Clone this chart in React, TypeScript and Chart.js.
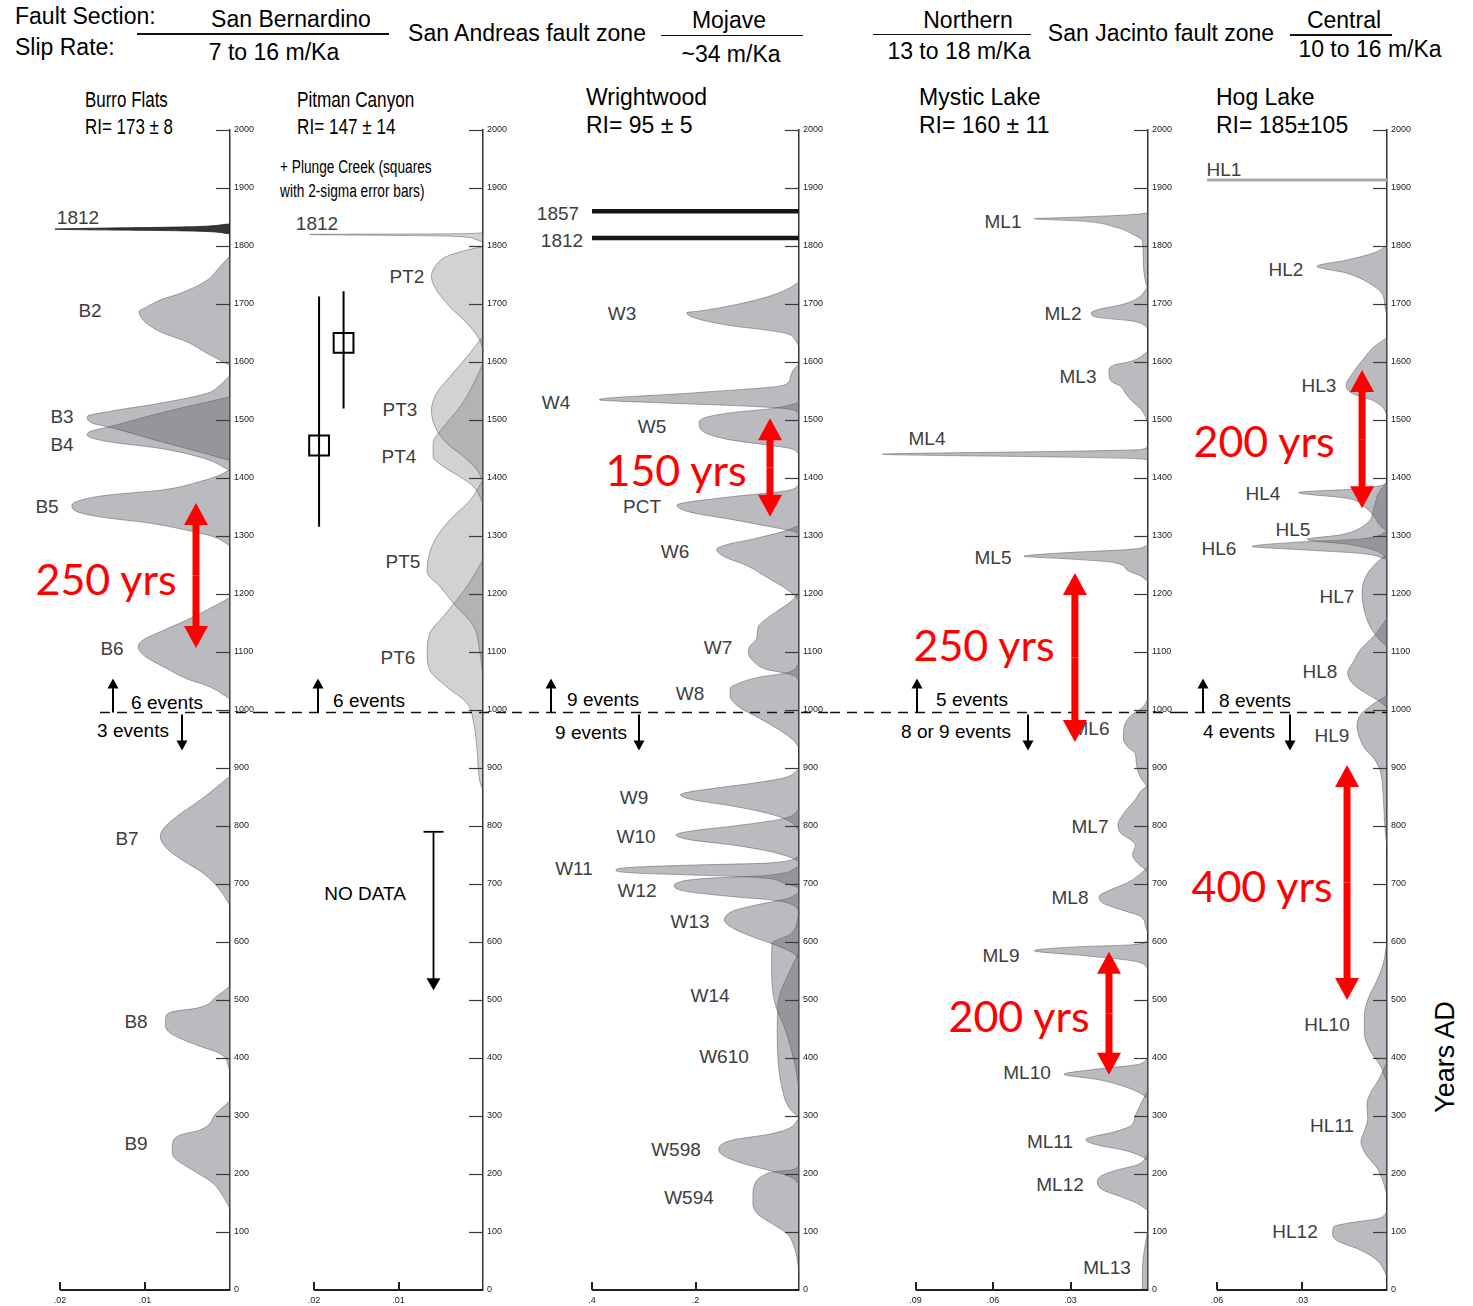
import React, { useEffect, useRef } from "react";
import { Chart, registerables } from "chart.js";

Chart.register(...registerables);

const PAGE_W = 1473;
const PAGE_H = 1306;
const SANS = '"Liberation Sans", Arial, Helvetica, sans-serif';
const RED_FONT = 'Lato, "Open Sans", sans-serif';

// ---------- axis ticks ----------
const YEAR_TICKS = [0, 100, 200, 300, 400, 500, 600, 700, 800, 900, 1000, 1100, 1200, 1300, 1400, 1500, 1600, 1700, 1800, 1900, 2000];
const YEAR_LABELS = YEAR_TICKS.map(String);
const DIVIDE_YEAR = 996;

const BF_X_TICKS = [0.02, 0.01];
const BF_X_LABELS = [".02", ".01"];
const PC_X_TICKS = [0.02, 0.01];
const PC_X_LABELS = [".02", ".01"];
const WW_X_TICKS = [0.4, 0.2];
const WW_X_LABELS = [".4", ".2"];
const ML_X_TICKS = [0.09, 0.06, 0.03];
const ML_X_LABELS = [".09", ".06", ".03"];
const HL_X_TICKS = [0.06, 0.03];
const HL_X_LABELS = [".06", ".03"];

// ---------- curves: [year AD, probability density] ----------
// Burro Flats
const BF_1812 = [[1838, 0], [1833, 0.005], [1829, 0.0206], [1826, 0.005], [1821, 0]];
const BF_B2 = [[1783, 0], [1764, 0.0012], [1741, 0.0027], [1718, 0.0059], [1707, 0.0082], [1695, 0.0098], [1687, 0.0107], [1672, 0.0102], [1652, 0.0082], [1635, 0.0051], [1615, 0.0027], [1594, 0]];
const BF_B3 = [[1577, 0], [1560, 0.0012], [1546, 0.0027], [1529, 0.0082], [1515, 0.0141], [1506, 0.0168], [1494, 0.0161], [1488, 0.0143], [1463, 0.0082], [1443, 0.0031], [1430, 0]];
const BF_B4 = [[1540, 0], [1512, 0.0082], [1488, 0.0143], [1480, 0.0165], [1474, 0.0168], [1463, 0.0145], [1451, 0.0082], [1434, 0.0031], [1413, 0]];
const BF_B5 = [[1415, 0], [1405, 0.0012], [1394, 0.0035], [1379, 0.0082], [1371, 0.0141], [1363, 0.0173], [1353, 0.0186], [1342, 0.018], [1333, 0.0153], [1322, 0.0094], [1310, 0.0051], [1299, 0.002], [1283, 0]];
const BF_B6 = [[1194, 0], [1178, 0.002], [1155, 0.0051], [1135, 0.0082], [1121, 0.0102], [1109, 0.0108], [1095, 0.0102], [1072, 0.0075], [1054, 0.0051], [1040, 0.0024], [1019, 0]];
const BF_B7 = [[886, 0], [862, 0.002], [845, 0.0035], [816, 0.0063], [796, 0.0078], [782, 0.0082], [764, 0.0076], [744, 0.0059], [718, 0.0031], [690, 0.0012], [663, 0]];
const BF_B8 = [[524, 0], [506, 0.0016], [486, 0.0039], [480, 0.0067], [472, 0.0075], [460, 0.0076], [446, 0.0073], [434, 0.0059], [420, 0.0035], [408, 0.0012], [378, 0]];
const BF_B9 = [[326, 0], [305, 0.0016], [276, 0.0035], [267, 0.0059], [256, 0.0067], [241, 0.0068], [227, 0.0065], [213, 0.0051], [184, 0.002], [161, 0.0008], [140, 0]];

// Pitman Canyon
const PC_1812 = [[1823, 0], [1821, 0.004], [1820, 0.0205], [1817, 0.004], [1812, 0.001], [1807, 0]];
const PC_PT2 = [[1799, 0], [1793, 0.0019], [1782, 0.0043], [1764, 0.0057], [1747, 0.0061], [1724, 0.0055], [1695, 0.0039], [1667, 0.0019], [1638, 0.0004], [1620, 0]];
const PC_PT3 = [[1644, 0], [1609, 0.0019], [1575, 0.0039], [1546, 0.0055], [1517, 0.0061], [1489, 0.0057], [1460, 0.0043], [1437, 0.0023], [1414, 0.0007], [1394, 0]];
const PC_PT4 = [[1598, 0], [1563, 0.0011], [1523, 0.0027], [1488, 0.0047], [1460, 0.0059], [1437, 0.0059], [1420, 0.0047], [1402, 0.0027], [1385, 0.0011], [1356, 0]];
const PC_PT5 = [[1397, 0], [1362, 0.0015], [1328, 0.0039], [1293, 0.0057], [1259, 0.0065], [1238, 0.0066], [1213, 0.0051], [1184, 0.0035], [1144, 0.0011], [1103, 0.0004], [1057, 0]];
const PC_PT6 = [[1259, 0], [1213, 0.0019], [1161, 0.0047], [1132, 0.0063], [1098, 0.0066], [1069, 0.0063], [1040, 0.0043], [1012, 0.0019], [977, 0.0011], [931, 0.0007], [879, 0.0004], [860, 0]];
// Plunge Creek ages (squares) with 2-sigma ranges
const PLUNGE_X = [0.0165, 0.0194];
const PLUNGE_MID = [1633, 1456];
const PLUNGE_HI = [1722, 1713];
const PLUNGE_LO = [1520, 1316];

// Wrightwood
const WW_1857 = [[1860, 0.4], [1860, 0]];
const WW_1812 = [[1814, 0.4], [1814, 0]];
const WW_W3 = [[1738, 0], [1725, 0.024], [1712, 0.0625], [1698, 0.127], [1688, 0.191], [1685, 0.217], [1675, 0.198], [1662, 0.127], [1655, 0.0625], [1649, 0.024], [1639, 0.008], [1626, 0]];
const WW_W4 = [[1597, 0], [1586, 0.011], [1573, 0.017], [1560, 0.03], [1547, 0.2], [1535, 0.386], [1529, 0.25], [1525, 0.127], [1520, 0.03], [1513, 0]];
const WW_W5 = [[1530, 0], [1520, 0.05], [1513, 0.127], [1505, 0.178], [1495, 0.193], [1480, 0.185], [1467, 0.14], [1457, 0.0625], [1451, 0.017], [1441, 0]];
const WW_PCT = [[1388, 0], [1378, 0.024], [1368, 0.127], [1358, 0.217], [1353, 0.236], [1341, 0.21], [1328, 0.127], [1315, 0.05], [1308, 0.011], [1302, 0]];
const WW_W6 = [[1318, 0], [1308, 0.03], [1295, 0.088], [1285, 0.14], [1277, 0.159], [1265, 0.146], [1249, 0.101], [1229, 0.0625], [1212, 0.03], [1199, 0.011], [1189, 0]];
const WW_W7 = [[1203, 0], [1186, 0.017], [1170, 0.043], [1153, 0.069], [1143, 0.079], [1123, 0.082], [1110, 0.095], [1100, 0.098], [1084, 0.088], [1070, 0.0625], [1063, 0.024], [1057, 0.005], [1044, 0]];
const WW_W8 = [[1080, 0], [1064, 0.024], [1057, 0.075], [1047, 0.114], [1037, 0.133], [1024, 0.133], [1004, 0.114], [985, 0.075], [965, 0.037], [948, 0.011], [935, 0]];
const WW_W9 = [[898, 0], [883, 0.029], [874, 0.087], [865, 0.164], [858, 0.216], [854, 0.229], [846, 0.209], [834, 0.126], [822, 0.061], [813, 0.029], [803, 0.01], [791, 0]];
const WW_W10 = [[828, 0], [813, 0.029], [800, 0.126], [792, 0.203], [785, 0.238], [776, 0.209], [767, 0.126], [757, 0.061], [748, 0.023], [739, 0]];
const WW_W11 = [[748, 0], [736, 0.061], [733, 0.19], [729, 0.319], [724, 0.354], [719, 0.319], [715, 0.19], [712, 0.093], [702, 0.029], [693, 0]];
const WW_W12 = [[730, 0], [715, 0.061], [709, 0.19], [702, 0.235], [696, 0.241], [687, 0.216], [678, 0.126], [672, 0.048], [663, 0.01], [650, 0]];
const WW_W13 = [[685, 0], [675, 0.023], [663, 0.087], [654, 0.126], [638, 0.144], [626, 0.132], [608, 0.087], [598, 0.055], [589, 0.029], [580, 0.01], [571, 0]];
const WW_W14 = [[650, 0], [614, 0.016], [598, 0.052], [565, 0.053], [510, 0.05], [482, 0.042], [455, 0.029], [418, 0.016], [381, 0.006], [345, 0]];
const WW_W610 = [[583, 0], [565, 0.01], [540, 0.023], [516, 0.035], [491, 0.041], [442, 0.042], [381, 0.039], [345, 0.032], [320, 0.023], [305, 0.01], [299, 0]];
const WW_W598 = [[296, 0], [277, 0.023], [268, 0.061], [259, 0.126], [250, 0.151], [241, 0.155], [228, 0.138], [216, 0.1], [204, 0.048], [195, 0.016], [183, 0]];
const WW_W594 = [[215, 0], [207, 0.016], [204, 0.048], [198, 0.068], [186, 0.084], [161, 0.089], [149, 0.089], [131, 0.08], [112, 0.048], [97, 0.023], [76, 0.01], [51, 0.003], [27, 0]];

// Mystic Lake
const ML_ML1 = [[1857, 0], [1854, 0.0067], [1850, 0.026], [1847, 0.044], [1843, 0.026], [1833, 0.013], [1819, 0.0054], [1809, 0.0022], [1770, 0.0018], [1737, 0.0009], [1724, 0]];
const ML_ML2 = [[1730, 0], [1710, 0.004], [1700, 0.0093], [1690, 0.0196], [1684, 0.022], [1677, 0.0196], [1671, 0.0067], [1664, 0.0015], [1657, 0]];
const ML_ML3 = [[1618, 0], [1601, 0.0067], [1595, 0.013], [1585, 0.0151], [1568, 0.0145], [1558, 0.0106], [1545, 0.0086], [1532, 0.006], [1519, 0.0028], [1505, 0.0009], [1492, 0]];
const ML_ML4 = [[1456, 0], [1449, 0.0028], [1446, 0.0325], [1441, 0.1028], [1436, 0.0325], [1433, 0.0028], [1429, 0]];
const ML_ML5 = [[1284, 0], [1277, 0.0067], [1271, 0.0325], [1265, 0.048], [1261, 0.0325], [1254, 0.013], [1241, 0.008], [1231, 0.0028], [1221, 0]];
const ML_ML6 = [[1020, 0], [1005, 0.002], [990, 0.0067], [970, 0.0093], [950, 0.0095], [937, 0.008], [925, 0.005], [907, 0.0045], [883, 0.0028], [871, 0.0009], [862, 0]];
const ML_ML7 = [[868, 0], [865, 0.0015], [846, 0.0048], [822, 0.0093], [803, 0.0116], [788, 0.0106], [776, 0.0067], [767, 0.0048], [751, 0.006], [736, 0.0041], [724, 0.0009], [718, 0]];
const ML_ML8 = [[730, 0], [718, 0.0028], [702, 0.008], [690, 0.0145], [678, 0.019], [666, 0.017], [654, 0.0093], [644, 0.0028], [626, 0.0009], [614, 0]];
const ML_ML9 = [[602, 0], [595, 0.0067], [592, 0.026], [585, 0.044], [577, 0.026], [568, 0.0067], [559, 0.0009], [546, 0]];
const ML_ML10 = [[406, 0], [390, 0.0028], [381, 0.0196], [372, 0.0325], [363, 0.0196], [351, 0.0093], [339, 0.0028], [329, 0]];
const ML_ML11 = [[345, 0], [326, 0.0022], [302, 0.0048], [283, 0.0067], [274, 0.0119], [259, 0.0241], [250, 0.0196], [241, 0.0093], [231, 0.0028], [222, 0]];
const ML_ML12 = [[235, 0], [216, 0.0041], [207, 0.0119], [198, 0.0177], [186, 0.0196], [173, 0.0177], [161, 0.0106], [149, 0.0041], [137, 0]];
const ML_ML13 = [[106, 0], [82, 0.0009], [57, 0.0018], [27, 0.0022], [0, 0.0022]];

// Hog Lake
const HL_HL1 = [[1914, 0.0635], [1914, 0]];
const HL_HL2 = [[1801, 0], [1788, 0.0047], [1776, 0.0141], [1765, 0.0247], [1753, 0.0141], [1731, 0.0047], [1718, 0.0018], [1692, 0.0006], [1679, 0]];
const HL_HL3 = [[1642, 0], [1626, 0.0047], [1606, 0.0082], [1579, 0.0124], [1560, 0.0144], [1546, 0.0124], [1533, 0.0047], [1520, 0.0012], [1507, 0]];
const HL_HL4 = [[1392, 0], [1388, 0.0012], [1381, 0.0118], [1375, 0.0312], [1365, 0.0141], [1351, 0.0082], [1335, 0.0047], [1318, 0.0024], [1308, 0]];
const HL_HL5 = [[1394, 0], [1375, 0.0029], [1348, 0.0047], [1322, 0.0071], [1302, 0.0165], [1294, 0.0282], [1286, 0.0141], [1276, 0.0047], [1262, 0]];
const HL_HL6 = [[1308, 0], [1295, 0.0094], [1289, 0.0329], [1282, 0.0476], [1277, 0.0329], [1270, 0.0094], [1260, 0]];
const HL_HL7 = [[1269, 0], [1249, 0.0047], [1229, 0.0076], [1203, 0.0088], [1176, 0.0082], [1143, 0.0059], [1120, 0.0024], [1110, 0]];
const HL_HL8 = [[1160, 0], [1150, 0.0012], [1127, 0.0047], [1104, 0.0094], [1084, 0.0118], [1064, 0.0139], [1044, 0.0118], [1028, 0.0071], [1014, 0.0024], [1004, 0]];
const HL_HL9 = [[1030, 0], [1024, 0.0006], [1011, 0.0047], [991, 0.0094], [971, 0.0106], [950, 0.0095], [932, 0.0076], [917, 0.0047], [895, 0.0024], [858, 0.0014], [809, 0.0009], [761, 0]];
const HL_HL10 = [[602, 0], [565, 0.0012], [534, 0.0035], [504, 0.0065], [473, 0.008], [443, 0.008], [412, 0.0059], [387, 0.0024], [357, 0]];
const HL_HL11 = [[394, 0], [363, 0.0029], [339, 0.0059], [320, 0.0071], [296, 0.0068], [271, 0.0082], [256, 0.0092], [235, 0.0076], [210, 0.0035], [180, 0.0009], [161, 0]];
const HL_HL12 = [[140, 0], [124, 0.0024], [115, 0.0141], [109, 0.0188], [97, 0.0192], [85, 0.0176], [69, 0.0094], [51, 0.0035], [33, 0.0009], [20, 0]];

// ---------- styles ----------
const FILL = "rgba(105,105,112,0.45)";
const FILL_LIGHT = "rgba(105,105,112,0.30)";
const EDGE = "rgba(80,80,85,0.6)";

const PANELS: any[] = [
  {
    id: "bf", left: 0, width: 258, yAxisW: 28, k: 8500, xMax: 0.0215,
    xTicks: BF_X_TICKS, xLabels: BF_X_LABELS,
    curves: [
      { pts: BF_1812, fill: "rgba(35,35,38,0.92)", edge: "#222" },
      { pts: BF_B2 }, { pts: BF_B3 }, { pts: BF_B4 }, { pts: BF_B5 },
      { pts: BF_B6 }, { pts: BF_B7 }, { pts: BF_B8 }, { pts: BF_B9 },
    ],
    dashStart: 100, upX: 0.01376, downX: 0.00565,
    red: [{ x: 0.004, y1: 1357, y2: 1107 }],
  },
  {
    id: "pc", left: 258, width: 254, yAxisW: 29, k: 8450, xMax: 0.0215,
    xTicks: PC_X_TICKS, xLabels: PC_X_LABELS,
    fill: FILL_LIGHT,
    curves: [
      { pts: PC_1812 }, { pts: PC_PT2 }, { pts: PC_PT3 }, { pts: PC_PT4 },
      { pts: PC_PT5 }, { pts: PC_PT6 },
    ],
    plunge: true,
    dashStart: 0, upX: 0.01953,
    red: [],
    noData: { x: 0.0059, top: 790, bottom: 517 },
  },
  {
    id: "ww", left: 512, width: 318, yAxisW: 31, k: 517.5, xMax: 0.41,
    xTicks: WW_X_TICKS, xLabels: WW_X_LABELS,
    curves: [
      { pts: WW_W3 }, { pts: WW_W4 }, { pts: WW_W5 }, { pts: WW_PCT }, { pts: WW_W6 },
      { pts: WW_W7 }, { pts: WW_W8 }, { pts: WW_W9 }, { pts: WW_W10 }, { pts: WW_W11 },
      { pts: WW_W12 }, { pts: WW_W13 }, { pts: WW_W14 }, { pts: WW_W610 },
      { pts: WW_W598 }, { pts: WW_W594 },
    ],
    lines: [
      { pts: WW_1857, color: "#151515", width: 4.5 },
      { pts: WW_1812, color: "#151515", width: 4.5 },
    ],
    dashStart: 0, upX: 0.479, downX: 0.309,
    red: [{ x: 0.056, y1: 1503, y2: 1333 }],
  },
  {
    id: "ml", left: 830, width: 348, yAxisW: 30, k: 2583.3, xMax: 0.106,
    xTicks: ML_X_TICKS, xLabels: ML_X_LABELS,
    curves: [
      { pts: ML_ML1 }, { pts: ML_ML2 }, { pts: ML_ML3 }, { pts: ML_ML4 }, { pts: ML_ML5 },
      { pts: ML_ML6 }, { pts: ML_ML7 }, { pts: ML_ML8 }, { pts: ML_ML9 }, { pts: ML_ML10 },
      { pts: ML_ML11 }, { pts: ML_ML12 }, { pts: ML_ML13 },
    ],
    dashStart: 0, upX: 0.0894, downX: 0.0465,
    red: [{ x: 0.0283, y1: 1236, y2: 945 }, { x: 0.0151, y1: 583, y2: 371 }],
  },
  {
    id: "hl", left: 1178, width: 295, yAxisW: 86, k: 2833.3, xMax: 0.066,
    xTicks: HL_X_TICKS, xLabels: HL_X_LABELS,
    curves: [
      { pts: HL_HL2 }, { pts: HL_HL3 }, { pts: HL_HL4 }, { pts: HL_HL5 }, { pts: HL_HL6 },
      { pts: HL_HL7 }, { pts: HL_HL8 }, { pts: HL_HL9 }, { pts: HL_HL10 },
      { pts: HL_HL11 }, { pts: HL_HL12 },
    ],
    lines: [{ pts: HL_HL1, color: "#a8a8a8", width: 3 }],
    dashStart: 0, dashToAxis: true, upX: 0.065, downX: 0.0342,
    red: [{ x: 0.0088, y1: 1586, y2: 1348 }, { x: 0.0141, y1: 905, y2: 500 }],
  },
];

// ---------- text ----------
const HEAD = 23;
const LBL = 19;
const GREY = "#3e3e3e";
const TEXTS: any[] = [
  { t: "Fault Section:", x: 15, y: 16, a: "l", s: HEAD },
  { t: "Slip Rate:", x: 15, y: 47, a: "l", s: HEAD },
  { t: "San Bernardino", x: 291, y: 19, s: HEAD },
  { t: "7 to 16 m/Ka", x: 274, y: 52, s: HEAD },
  { t: "San Andreas fault zone", x: 527, y: 33, s: HEAD },
  { t: "Mojave", x: 729, y: 20, s: HEAD },
  { t: "~34 m/Ka", x: 731, y: 54, s: HEAD },
  { t: "Northern", x: 968, y: 20, s: HEAD },
  { t: "13 to 18 m/Ka", x: 959, y: 51, s: HEAD },
  { t: "San Jacinto fault zone", x: 1161, y: 33, s: HEAD },
  { t: "Central", x: 1344, y: 20, s: HEAD },
  { t: "10 to 16 m/Ka", x: 1370, y: 49, s: HEAD },

  { t: "Burro Flats", x: 85, y: 100, a: "l", s: 22, sx: 0.77 },
  { t: "RI= 173 ± 8", x: 85, y: 127, a: "l", s: 22, sx: 0.77 },
  { t: "Pitman Canyon", x: 297, y: 100, a: "l", s: 22, sx: 0.78 },
  { t: "RI= 147 ± 14", x: 297, y: 127, a: "l", s: 22, sx: 0.78 },
  { t: "+ Plunge Creek (squares", x: 280, y: 167, a: "l", s: 18, sx: 0.76 },
  { t: "with 2-sigma error bars)", x: 280, y: 191, a: "l", s: 18, sx: 0.76 },
  { t: "Wrightwood", x: 586, y: 97, a: "l", s: HEAD },
  { t: "RI= 95 ± 5", x: 586, y: 125, a: "l", s: HEAD },
  { t: "Mystic Lake", x: 919, y: 97, a: "l", s: HEAD },
  { t: "RI= 160 ± 11", x: 919, y: 125, a: "l", s: HEAD },
  { t: "Hog Lake", x: 1216, y: 97, a: "l", s: HEAD },
  { t: "RI= 185±105", x: 1216, y: 125, a: "l", s: HEAD },

  { t: "1812", x: 78, y: 217, s: LBL, c: GREY },
  { t: "B2", x: 90, y: 310, s: LBL, c: GREY },
  { t: "B3", x: 62, y: 416, s: LBL, c: GREY },
  { t: "B4", x: 62, y: 444, s: LBL, c: GREY },
  { t: "B5", x: 47, y: 506, s: LBL, c: GREY },
  { t: "B6", x: 112, y: 648, s: LBL, c: GREY },
  { t: "B7", x: 127, y: 838, s: LBL, c: GREY },
  { t: "B8", x: 136, y: 1021, s: LBL, c: GREY },
  { t: "B9", x: 136, y: 1143, s: LBL, c: GREY },

  { t: "1812", x: 317, y: 223, s: LBL, c: GREY },
  { t: "PT2", x: 407, y: 276, s: LBL, c: GREY },
  { t: "PT3", x: 400, y: 409, s: LBL, c: GREY },
  { t: "PT4", x: 399, y: 456, s: LBL, c: GREY },
  { t: "PT5", x: 403, y: 561, s: LBL, c: GREY },
  { t: "PT6", x: 398, y: 657, s: LBL, c: GREY },

  { t: "1857", x: 558, y: 213, s: LBL, c: GREY },
  { t: "1812", x: 562, y: 240, s: LBL, c: GREY },
  { t: "W3", x: 622, y: 313, s: LBL, c: GREY },
  { t: "W4", x: 556, y: 402, s: LBL, c: GREY },
  { t: "W5", x: 652, y: 426, s: LBL, c: GREY },
  { t: "PCT", x: 642, y: 506, s: LBL, c: GREY },
  { t: "W6", x: 675, y: 551, s: LBL, c: GREY },
  { t: "W7", x: 718, y: 647, s: LBL, c: GREY },
  { t: "W8", x: 690, y: 693, s: LBL, c: GREY },
  { t: "W9", x: 634, y: 797, s: LBL, c: GREY },
  { t: "W10", x: 636, y: 836, s: LBL, c: GREY },
  { t: "W11", x: 574, y: 868, s: LBL, c: GREY },
  { t: "W12", x: 637, y: 890, s: LBL, c: GREY },
  { t: "W13", x: 690, y: 921, s: LBL, c: GREY },
  { t: "W14", x: 710, y: 995, s: LBL, c: GREY },
  { t: "W610", x: 724, y: 1056, s: LBL, c: GREY },
  { t: "W598", x: 676, y: 1149, s: LBL, c: GREY },
  { t: "W594", x: 689, y: 1197, s: LBL, c: GREY },

  { t: "ML1", x: 1003, y: 221, s: LBL, c: GREY },
  { t: "ML2", x: 1063, y: 313, s: LBL, c: GREY },
  { t: "ML3", x: 1078, y: 376, s: LBL, c: GREY },
  { t: "ML4", x: 927, y: 438, s: LBL, c: GREY },
  { t: "ML5", x: 993, y: 557, s: LBL, c: GREY },
  { t: "ML6", x: 1091, y: 728, s: LBL, c: GREY },
  { t: "ML7", x: 1090, y: 826, s: LBL, c: GREY },
  { t: "ML8", x: 1070, y: 897, s: LBL, c: GREY },
  { t: "ML9", x: 1001, y: 955, s: LBL, c: GREY },
  { t: "ML10", x: 1027, y: 1072, s: LBL, c: GREY },
  { t: "ML11", x: 1050, y: 1141, s: LBL, c: GREY },
  { t: "ML12", x: 1060, y: 1184, s: LBL, c: GREY },
  { t: "ML13", x: 1107, y: 1267, s: LBL, c: GREY },

  { t: "HL1", x: 1224, y: 169, s: LBL, c: GREY },
  { t: "HL2", x: 1286, y: 269, s: LBL, c: GREY },
  { t: "HL3", x: 1319, y: 385, s: LBL, c: GREY },
  { t: "HL4", x: 1263, y: 493, s: LBL, c: GREY },
  { t: "HL5", x: 1293, y: 529, s: LBL, c: GREY },
  { t: "HL6", x: 1219, y: 548, s: LBL, c: GREY },
  { t: "HL7", x: 1337, y: 596, s: LBL, c: GREY },
  { t: "HL8", x: 1320, y: 671, s: LBL, c: GREY },
  { t: "HL9", x: 1332, y: 735, s: LBL, c: GREY },
  { t: "HL10", x: 1327, y: 1024, s: LBL, c: GREY },
  { t: "HL11", x: 1332, y: 1125, s: LBL, c: GREY },
  { t: "HL12", x: 1295, y: 1231, s: LBL, c: GREY },

  { t: "6 events", x: 167, y: 702, s: LBL },
  { t: "3 events", x: 133, y: 730, s: LBL },
  { t: "6 events", x: 369, y: 700, s: LBL },
  { t: "9 events", x: 603, y: 699, s: LBL },
  { t: "9 events", x: 591, y: 732, s: LBL },
  { t: "5 events", x: 972, y: 699, s: LBL },
  { t: "8 or 9 events", x: 956, y: 731, s: LBL },
  { t: "8 events", x: 1255, y: 700, s: LBL },
  { t: "4 events", x: 1239, y: 731, s: LBL },
  { t: "NO DATA", x: 365, y: 893, s: LBL },

  { t: "250 yrs", x: 106, y: 578, s: 43, c: "#ff0000", f: RED_FONT },
  { t: "150 yrs", x: 676, y: 469, s: 43, c: "#ff0000", f: RED_FONT },
  { t: "250 yrs", x: 984, y: 644, s: 43, c: "#ff0000", f: RED_FONT },
  { t: "200 yrs", x: 1019, y: 1015, s: 43, c: "#ff0000", f: RED_FONT },
  { t: "200 yrs", x: 1264, y: 440, s: 43, c: "#ff0000", f: RED_FONT },
  { t: "400 yrs", x: 1262, y: 885, s: 43, c: "#ff0000", f: RED_FONT },

  { t: "Years AD", x: 1445, y: 1057, s: 27, rot: true },
];

const RULES = [
  { x1: 137, x2: 389, y: 34 },
  { x1: 661, x2: 803, y: 35.5 },
  { x1: 873, x2: 1031, y: 34.5 },
  { x1: 1290, x2: 1392, y: 35 },
];

// ---------- drawing helpers ----------
function drawArrow(ctx: any, x: number, yFrom: number, yTo: number, color: string, shaft: number, headW: number, headL: number) {
  const dir = Math.sign(yTo - yFrom);
  ctx.strokeStyle = color;
  ctx.fillStyle = color;
  ctx.lineWidth = shaft;
  ctx.lineCap = "butt";
  ctx.beginPath();
  ctx.moveTo(x, yFrom);
  ctx.lineTo(x, yTo - dir * headL * 0.7);
  ctx.stroke();
  ctx.beginPath();
  ctx.moveTo(x, yTo);
  ctx.lineTo(x - headW / 2, yTo - dir * headL);
  ctx.lineTo(x + headW / 2, yTo - dir * headL);
  ctx.closePath();
  ctx.fill();
}

function makeAnnotPlugin(spec: any) {
  return {
    id: "annot_" + spec.id,
    afterDatasetsDraw(chart: any) {
      const ctx = chart.ctx;
      const ca = chart.chartArea;
      const xs = chart.scales.x;
      const ys = chart.scales.y;
      ctx.save();
      // inward y ticks
      ctx.strokeStyle = "#3a3a3a";
      ctx.lineWidth = 1.2;
      for (const t of YEAR_TICKS) {
        if (t === 0) continue;
        const py = Math.round(ys.getPixelForValue(t)) + 0.5;
        ctx.beginPath();
        ctx.moveTo(ca.right - 14, py);
        ctx.lineTo(ca.right, py);
        ctx.stroke();
      }
      // x axis line from first tick to the year axis, ticks pointing up
      const xl = xs.getPixelForValue(spec.xTicks[0]);
      ctx.strokeStyle = "#222";
      ctx.lineWidth = 2;
      ctx.beginPath();
      ctx.moveTo(xl, ca.bottom);
      ctx.lineTo(ca.right, ca.bottom);
      ctx.stroke();
      for (const t of spec.xTicks) {
        const px = Math.round(xs.getPixelForValue(t));
        ctx.beginPath();
        ctx.moveTo(px, ca.bottom);
        ctx.lineTo(px, ca.bottom - 8);
        ctx.stroke();
      }
      // dashed divide
      const dy = Math.round(ys.getPixelForValue(DIVIDE_YEAR)) + 0.5;
      ctx.setLineDash([10, 7]);
      ctx.lineWidth = 1.5;
      ctx.strokeStyle = "#111";
      ctx.beginPath();
      ctx.moveTo(spec.dashStart, dy);
      ctx.lineTo(spec.dashToAxis ? ca.right : chart.width, dy);
      ctx.stroke();
      ctx.setLineDash([]);
      // event arrows
      if (spec.upX != null) drawArrow(ctx, Math.round(xs.getPixelForValue(spec.upX)), dy, dy - 34, "#000", 2, 11, 10);
      if (spec.downX != null) drawArrow(ctx, Math.round(xs.getPixelForValue(spec.downX)), dy + 2, dy + 38, "#000", 2, 11, 10);
      // no data marker
      if (spec.noData) {
        const nx = Math.round(xs.getPixelForValue(spec.noData.x)) + 0.5;
        const ty = ys.getPixelForValue(spec.noData.top);
        const by = ys.getPixelForValue(spec.noData.bottom);
        ctx.strokeStyle = "#000";
        ctx.lineWidth = 1.8;
        ctx.beginPath();
        ctx.moveTo(nx - 10, ty);
        ctx.lineTo(nx + 10, ty);
        ctx.stroke();
        drawArrow(ctx, nx, ty, by, "#000", 1.8, 14, 12);
      }
      // red double arrows
      for (const r of spec.red) {
        const rx = xs.getPixelForValue(r.x);
        const y1 = ys.getPixelForValue(r.y1);
        const y2 = ys.getPixelForValue(r.y2);
        const mid = (y1 + y2) / 2;
        drawArrow(ctx, rx, mid, y1, "#ff0000", 7, 24, 22);
        drawArrow(ctx, rx, mid, y2, "#ff0000", 7, 24, 22);
      }
      ctx.restore();
    },
  };
}

function buildConfig(spec: any) {
  const datasets: any[] = [];
  for (const l of spec.lines || []) {
    datasets.push({
      data: l.pts.map((p: number[]) => ({ x: p[1], y: p[0] })),
      fill: false,
      borderColor: l.color,
      borderWidth: l.width,
      pointRadius: 0,
      tension: 0,
      cubicInterpolationMode: "default",
      clip: false,
      order: 0,
    });
  }
  if (spec.plunge) {
    for (let i = 0; i < PLUNGE_X.length; i++) {
      datasets.push({
        data: [{ x: PLUNGE_X[i], y: PLUNGE_HI[i] }, { x: PLUNGE_X[i], y: PLUNGE_LO[i] }],
        fill: false,
        borderColor: "#000",
        borderWidth: 2,
        pointRadius: 0,
        tension: 0,
        cubicInterpolationMode: "default",
        clip: false,
        order: 0,
      });
    }
    datasets.push({
      data: PLUNGE_X.map((x, i) => ({ x, y: PLUNGE_MID[i] })),
      showLine: false,
      fill: false,
      pointStyle: "rect",
      pointRadius: 14,
      pointBackgroundColor: "rgba(0,0,0,0)",
      pointBorderColor: "#000",
      pointBorderWidth: 2,
      clip: false,
      order: 0,
    });
  }
  for (const c of spec.curves) {
    datasets.push({
      data: c.pts.map((p: number[]) => ({ x: p[1], y: p[0] })),
      fill: "origin",
      backgroundColor: c.fill || spec.fill || FILL,
      borderColor: c.edge || EDGE,
      borderWidth: 0.8,
      pointRadius: 0,
      cubicInterpolationMode: "monotone",
      clip: false,
      order: 1,
    });
  }
  const padLeft = spec.width - spec.yAxisW - spec.xMax * spec.k;
  const tickFont = { family: SANS, size: 9 };
  return {
    type: "line",
    data: { datasets },
    plugins: [makeAnnotPlugin(spec)],
    options: {
      indexAxis: "y",
      animation: false,
      responsive: false,
      maintainAspectRatio: false,
      devicePixelRatio: 1,
      events: [],
      layout: { padding: { left: padLeft, top: 130, right: 0, bottom: 0 } },
      plugins: {
        legend: { display: false },
        tooltip: { enabled: false },
        title: { display: false },
      },
      scales: {
        x: {
          type: "linear",
          position: "bottom",
          reverse: true,
          min: 0,
          max: spec.xMax,
          grid: { display: false, drawTicks: false },
          border: { display: false },
          ticks: {
            font: tickFont,
            color: "#222",
            padding: 5,
            autoSkip: false,
            maxRotation: 0,
            callback: (_v: any, i: number) => spec.xLabels[i],
          },
          afterBuildTicks: (s: any) => {
            s.ticks = spec.xTicks.map((v: number) => ({ value: v }));
          },
          afterFit: (s: any) => {
            s.height = 16;
          },
        },
        y: {
          type: "linear",
          position: "right",
          min: 0,
          max: 2000,
          grid: { display: false, drawTicks: false },
          border: { display: true, color: "#333", width: 1.5 },
          ticks: {
            font: tickFont,
            color: "#222",
            padding: 4,
            autoSkip: false,
            callback: (v: any) => YEAR_LABELS[YEAR_TICKS.indexOf(v)],
          },
          afterBuildTicks: (s: any) => {
            s.ticks = YEAR_TICKS.map((v) => ({ value: v }));
          },
          afterFit: (s: any) => {
            s.width = spec.yAxisW;
          },
        },
      },
    },
  };
}

function PanelChart({ spec }: { spec: any }) {
  const ref = useRef<HTMLCanvasElement | null>(null);
  useEffect(() => {
    if (!ref.current) return;
    const chart = new Chart(ref.current, buildConfig(spec) as any);
    return () => chart.destroy();
  }, [spec]);
  return (
    <canvas
      ref={ref}
      width={spec.width}
      height={PAGE_H}
      style={{ position: "absolute", left: spec.left, top: 0, width: spec.width, height: PAGE_H, display: "block" }}
    />
  );
}

function Label({ d }: { d: any }) {
  let transform = "translate(-50%,-50%)";
  let origin = "50% 50%";
  if (d.a === "l") {
    transform = "translateY(-50%)";
    origin = "0 50%";
  }
  if (d.sx) transform += ` scaleX(${d.sx})`;
  if (d.rot) transform += " rotate(-90deg)";
  return (
    <div
      style={{
        position: "absolute",
        left: d.x,
        top: d.y,
        transform,
        transformOrigin: origin,
        whiteSpace: "nowrap",
        lineHeight: 1,
        fontSize: d.s,
        fontFamily: d.f || SANS,
        color: d.c || "#000",
      }}
    >
      {d.t}
    </div>
  );
}

export default function App() {
  useEffect(() => {
    document.body.style.margin = "0";
  }, []);
  return (
    <div
      style={{
        position: "absolute",
        left: 0,
        top: 0,
        width: PAGE_W,
        height: PAGE_H,
        background: "#fff",
        overflow: "hidden",
        fontFamily: SANS,
      }}
    >
      {RULES.map((r, i) => (
        <div
          key={"r" + i}
          style={{ position: "absolute", left: r.x1, top: r.y - 0.75, width: r.x2 - r.x1, height: 1.5, background: "#111" }}
        />
      ))}
      {TEXTS.map((d, i) => (
        <Label key={"t" + i} d={d} />
      ))}
      {PANELS.map((p) => (
        <PanelChart key={p.id} spec={p} />
      ))}
    </div>
  );
}
